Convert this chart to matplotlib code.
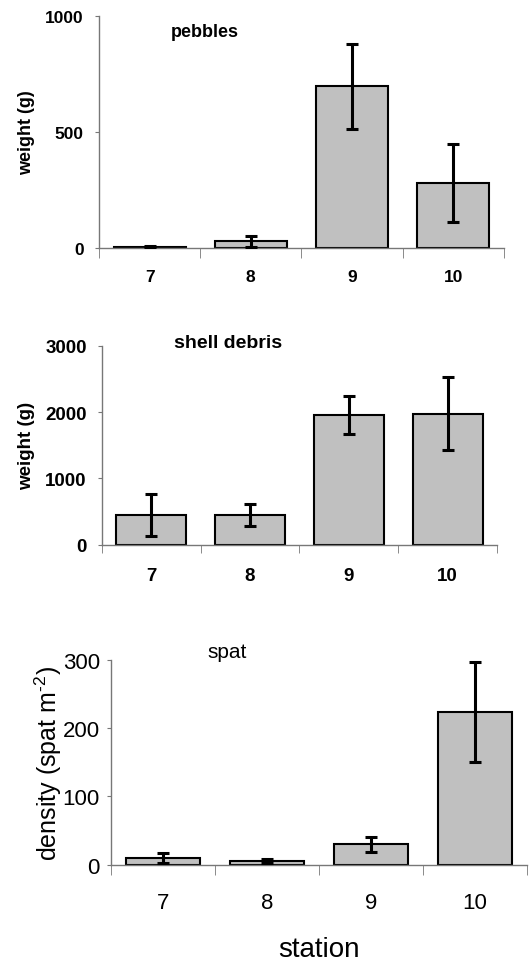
import matplotlib
matplotlib.use("Agg")
import matplotlib.pyplot as plt
import numpy as np

plt.rcParams["font.family"] = ["Liberation Sans", "DejaVu Sans"]
plt.rcParams["mathtext.fontset"] = "custom"
plt.rcParams["mathtext.rm"] = "Liberation Sans"
plt.rcParams["mathtext.default"] = "regular"

STATIONS = ["7", "8", "9", "10"]

PEBBLES_MEAN = [3, 29, 697, 281]
PEBBLES_ERR = [4, 24, 183, 168]

SHELL_MEAN = [453, 450, 1958, 1978]
SHELL_ERR = [320, 171, 287, 554]

SPAT_MEAN = [10, 6, 30, 224]
SPAT_ERR = [7, 3, 11, 73]

BAR_COLOR = "#c0c0c0"
AXIS_COLOR = "#777777"


def draw_panel(ax, means, errs, yticks, title, title_xy, ylabel, label_x,
               fontsize, weight, label_size, title_size, xpad=13, tick_len=7):
    x = np.arange(len(STATIONS))
    ax.bar(x, means, width=0.71, color=BAR_COLOR, edgecolor="black", linewidth=1.5, zorder=2)
    ax.errorbar(x, means, yerr=errs, fmt="none", ecolor="black", elinewidth=2.2,
                capsize=4.5, capthick=2.2, zorder=3)

    ax.set_xlim(-0.5, len(STATIONS) - 0.5)
    ax.set_ylim(yticks[0], yticks[-1])
    ax.set_yticks(yticks)
    ax.set_xticks(x)
    ax.set_xticklabels(STATIONS)
    ax.set_xticks(np.arange(len(STATIONS) + 1) - 0.5, minor=True)

    for s in ("top", "right"):
        ax.spines[s].set_visible(False)
    for s in ("left", "bottom"):
        ax.spines[s].set_color(AXIS_COLOR)
        ax.spines[s].set_linewidth(1.0)

    ax.tick_params(axis="x", which="major", length=0, pad=xpad, labelsize=fontsize)
    ax.tick_params(axis="x", which="minor", length=tick_len, color=AXIS_COLOR, direction="out")
    ax.tick_params(axis="y", length=3, color=AXIS_COLOR, pad=8, labelsize=fontsize)
    for lab in ax.get_xticklabels() + ax.get_yticklabels():
        lab.set_fontweight(weight)

    ax.text(title_xy[0], title_xy[1], title, transform=ax.transAxes, ha="center", va="center",
            fontsize=title_size, fontweight=weight)
    ax.set_ylabel(ylabel, fontsize=label_size, fontweight=weight, va="center")
    ax.yaxis.set_label_coords(label_x, 0.5)


fig = plt.figure(figsize=(5.32, 9.62), dpi=100)

ax1 = fig.add_axes([0.1861, 0.7412, 0.7609, 0.2411])
draw_panel(ax1, PEBBLES_MEAN, PEBBLES_ERR, [0, 500, 1000], "pebbles", (0.262, 0.935),
           "weight (g)", -0.178, 12.5, "bold", 13, 13, xpad=15, tick_len=7)

ax2 = fig.add_axes([0.1917, 0.4327, 0.7425, 0.2066])
draw_panel(ax2, SHELL_MEAN, SHELL_ERR, [0, 1000, 2000, 3000], "shell debris", (0.318, 1.02),
           "weight (g)", -0.19, 13.5, "bold", 13.5, 14, xpad=16, tick_len=6)

ax3 = fig.add_axes([0.2086, 0.1001, 0.7820, 0.2131])
draw_panel(ax3, SPAT_MEAN, SPAT_ERR, [0, 100, 200, 300], "spat", (0.279, 1.04),
           "density (spat m$^{\\text{-2}}$)", -0.151, 16, "normal", 18, 15, xpad=20, tick_len=7)
ax3.tick_params(axis="y", pad=5)
ax3.set_xlabel("station", fontsize=20, labelpad=16)

fig.savefig("out.png", dpi=100)
